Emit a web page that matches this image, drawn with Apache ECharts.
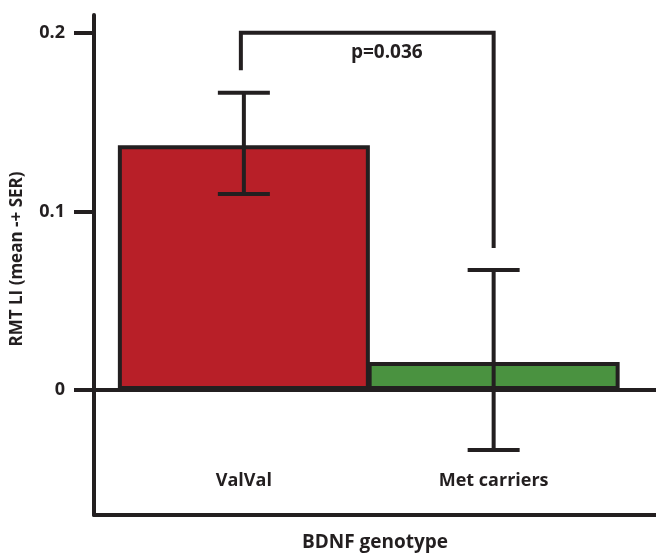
<!DOCTYPE html>
<html>
<head>
<meta charset="utf-8">
<script src="https://cdn.jsdelivr.net/npm/echarts@6/dist/echarts.min.js"></script>
<style>
  html, body { margin: 0; padding: 0; background: #fff; }
  #chart { width: 656px; height: 554px; }
</style>
</head>
<body>
<div id="chart"></div>
<script>
// data
const categories = ['ValVal', 'Met carriers']
const means = [0.137, 0.0157]
const errLow = [0.1097, -0.0336]
const errHigh = [0.1664, 0.0672]
const yTicks = [0, 0.1, 0.2]
// significance bracket: level, left leg end, right leg end
const bracket = [0.2, 0.179, 0.0795]
const pText = 'p=0.036'

const ink = '#231f20'
const font = '"Open Sans", "Noto Sans", sans-serif'
const barColors = ['#b81f28', '#4a9240']

const dom = echarts.init(document.getElementById('chart'))

const option = {
  animation: false,
  grid: { left: 94, right: 0, top: 15, bottom: 39, outerBoundsMode: 'none', containLabel: false },
  xAxis: {
    type: 'value',
    min: -0.6,
    max: 1.65,
    name: 'BDNF genotype',
    nameLocation: 'middle',
    nameGap: 18,
    nameTextStyle: { color: ink, fontFamily: font, fontWeight: 'bold', fontSize: 19 },
    axisLine: { onZero: false, lineStyle: { color: ink, width: 4 } },
    axisTick: { show: false },
    splitLine: { show: false },
    axisLabel: {
      inside: true,
      margin: 25,
      customValues: [0, 1],
      formatter: v => categories[Math.round(v)],
      color: ink,
      fontFamily: font,
      fontWeight: 'bold',
      fontSize: 18
    }
  },
  yAxis: {
    type: 'value',
    min: -0.07,
    max: 0.21,
    name: 'RMT LI (mean -+ SER)',
    nameLocation: 'middle',
    nameRotate: 90,
    nameGap: 68,
    nameTextStyle: { color: ink, fontFamily: font, fontWeight: 'bold', fontSize: 17, padding: [0, 0, 0, 12] },
    axisLine: { show: true, onZero: false, lineStyle: { color: ink, width: 4 } },
    axisTick: { show: true, customValues: yTicks, length: 20, lineStyle: { color: ink, width: 4 } },
    splitLine: { show: false },
    axisLabel: {
      customValues: yTicks,
      margin: 29,
      formatter: v => String(v),
      color: ink,
      fontFamily: font,
      fontWeight: 'bold',
      fontSize: 18
    }
  },
  series: [
    {
      type: 'bar',
      barWidth: 252,
      data: means.map((m, i) => ({
        value: [i, m],
        itemStyle: { color: barColors[i], borderColor: ink, borderWidth: 4 }
      })),
      markLine: {
        silent: true,
        symbol: 'none',
        label: { show: false },
        lineStyle: { color: ink, width: 4, type: 'solid' },
        data: [{ yAxis: 0 }]
      },
      z: 2
    },
    {
      type: 'custom',
      z: 5,
      data: categories.map((c, i) => [i, errLow[i], errHigh[i]]),
      renderItem: (params, api) => {
        const lo = api.coord([api.value(0), api.value(1)])
        const hi = api.coord([api.value(0), api.value(2)])
        const half = 26
        const style = { stroke: ink, lineWidth: 4 }
        return {
          type: 'group',
          children: [
            { type: 'line', shape: { x1: lo[0], y1: lo[1], x2: hi[0], y2: hi[1] }, style },
            { type: 'line', shape: { x1: hi[0] - half, y1: hi[1], x2: hi[0] + half, y2: hi[1] }, style },
            { type: 'line', shape: { x1: lo[0] - half, y1: lo[1], x2: lo[0] + half, y2: lo[1] }, style }
          ]
        }
      }
    },
    {
      type: 'custom',
      z: 5,
      data: [[0, 1, bracket[0], bracket[1], bracket[2]]],
      renderItem: (params, api) => {
        const a = api.coord([api.value(0), api.value(3)])
        const b = api.coord([api.value(0), api.value(2)])
        const c = api.coord([api.value(1), api.value(2)])
        const d = api.coord([api.value(1), api.value(4)])
        return {
          type: 'group',
          children: [
            {
              type: 'polyline',
              shape: { points: [[a[0] - 3, a[1]], [b[0] - 3, b[1]], [c[0], c[1]], [d[0], d[1]]] },
              style: { stroke: ink, lineWidth: 4, fill: null }
            },
            {
              type: 'text',
              style: {
                text: pText,
                x: (b[0] + c[0]) / 2 + 18,
                y: b[1] + 20,
                align: 'center',
                verticalAlign: 'middle',
                fill: ink,
                font: 'bold 19px ' + font
              }
            }
          ]
        }
      }
    }
  ]
}

dom.setOption(option)
window.addEventListener('resize', () => dom.resize())
</script>
</body>
</html>
